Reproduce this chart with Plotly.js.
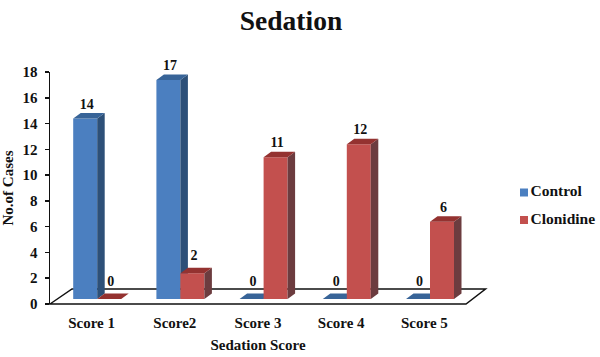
<!DOCTYPE html>
<html>
<head>
<meta charset="utf-8">
<script src="https://cdn.plot.ly/plotly-3.0.1.min.js"></script>
<style>html,body{margin:0;padding:0;background:#fff}#c{width:600px;height:357px}</style>
</head>
<body>
<div id="c"></div>
<script>
const categories = ["Score 1", "Score2", "Score 3", "Score 4", "Score 5"];
const control = [14, 17, 0, 0, 0];
const clonidine = [0, 2, 11, 12, 6];
const yTicks = [0, 2, 4, 6, 8, 10, 12, 14, 16, 18];

// pseudo-3D geometry, in axis units
const plotW = 416, plotH = 232, areaW = 550;
const pxX = plotW / categories.length, pxY = plotH / 18;
const shift = 5.6 / pxX, barW = 24 / pxX;
const baseY = 5 / pxY;
const dx = 7.5 / pxX, dy = 5.5 / pxY;
const font = "'Liberation Serif','Times New Roman',serif";

const idx = categories.map((_, i) => i);
const centers = sign => idx.map(i => i + shift + sign * barW / 2);

function faces(xs, vals) {
  const side = {x: [], y: []}, top = {x: [], y: []};
  const add = (o, pts) => {
    pts.forEach(p => { o.x.push(p[0]); o.y.push(p[1]); });
    o.x.push(null); o.y.push(null);
  };
  xs.forEach((c, i) => {
    const l = c - barW / 2, r = c + barW / 2, t = vals[i] + baseY;
    add(side, [[r, baseY], [r + dx, baseY + dy], [r + dx, t + dy], [r, t], [r, baseY]]);
    add(top, [[l, t], [r, t], [r + dx, t + dy], [l + dx, t + dy], [l, t]]);
  });
  return {side, top};
}

function series(name, vals, sign, front, sideC, topC, xa, ya, keyY) {
  const xs = centers(sign), f = faces(xs, vals);
  const poly = (o, col) => ({type: "scatter", mode: "lines", x: o.x, y: o.y, fill: "toself",
    fillcolor: col, line: {width: 0, color: col}, hoverinfo: "skip", showlegend: false,
    xaxis: xa, yaxis: ya, cliponaxis: false});
  return [
    {type: "bar", x: xs, y: vals, base: idx.map(() => baseY), width: barW, marker: {color: front, line: {width: 0}},
      showlegend: false, xaxis: xa, yaxis: ya, name},
    poly(f.side, sideC), poly(f.top, topC),
    {type: "scatter", mode: "text", x: xs.map(v => v + 1.5 / pxX), y: vals.map(v => v + baseY + (v < 3 ? 0.77 : 0.5)),
      text: vals.map(String), textposition: "top center", cliponaxis: false, hoverinfo: "skip",
      textfont: {family: font, size: 14, color: "#111", weight: 700}, showlegend: false, xaxis: xa, yaxis: ya},
    // legend key and label on their own small axes to the right of the plot
    {type: "scatter", mode: "markers", x: [524], y: [keyY], name, hoverinfo: "skip", showlegend: false,
      marker: {symbol: "square", size: 8, color: front}, xaxis: "x3", yaxis: "y3"},
    {type: "scatter", mode: "text", x: [530.5], y: [keyY], text: [name],
      textposition: "middle right", cliponaxis: false, hoverinfo: "skip", showlegend: false,
      textfont: {family: font, size: 15.5, color: "#111", weight: 700}, xaxis: "x3", yaxis: "y3"}
  ];
}

const traces = [
  ...series("Control", control, -1, "#4B7FC0", "#2D5078", "#386498", "x", "y", 192.5),
  ...series("Clonidine", clonidine, 1, "#C3504E", "#6C3C3F", "#943230", "x2", "y2", 220)
];

const fx = -0.5, fr = idx.length - 0.5;
const mainDomain = [0, plotW / areaW];
const floorL = 22 / areaW, floorR = 19.5 / areaW, floorH = 15 / plotH, floorEnd = plotW / areaW;
const floorPath = `M0,0 L${floorL},${floorH} L${floorEnd + floorR},${floorH} L${floorEnd},0 Z`;

const layout = {
  width: 600, height: 357, paper_bgcolor: "#fff", plot_bgcolor: "#fff",
  margin: {l: 50, r: 0, t: 72, b: 53},
  barmode: "overlay",
  showlegend: false,
  font: {family: font, size: 15, color: "#111", weight: 700},
  title: {text: "<b>Sedation</b>", x: 0.485, xanchor: "center", y: 0.943, yanchor: "middle",
    font: {family: font, size: 27.5, color: "#111"}},
  xaxis: {domain: mainDomain, range: [fx, fr], tickmode: "array", tickvals: idx, ticktext: categories, showgrid: false,
    zeroline: false, showline: false, ticks: "", ticklabelstandoff: 8,
    tickfont: {family: font, size: 15, weight: 700},
    title: {text: "<b>Sedation Score</b>", standoff: 9, font: {family: font, size: 15}}},
  yaxis: {range: [0, 18], tickmode: "array", tickvals: yTicks, showgrid: false, zeroline: false,
    showline: true, linecolor: "#111", linewidth: 1.5, ticks: "outside", ticklen: 4, tickcolor: "#111", tickwidth: 1.5,
    ticklabelstandoff: 4,
    tickfont: {family: font, size: 15, weight: 700},
    title: {text: "<b>No.of Cases</b>", standoff: 5, font: {family: font, size: 15}}},
  xaxis2: {domain: mainDomain, range: [fx, fr], overlaying: "x", visible: false},
  yaxis2: {range: [0, 18], overlaying: "y", visible: false},
  xaxis3: {domain: [460 / areaW, 1], range: [510, 600], anchor: "y3", visible: false},
  yaxis3: {range: [304, 72], anchor: "x3", visible: false},
  shapes: [{type: "path", xref: "paper", yref: "paper", layer: "below", path: floorPath,
    line: {color: "#111", width: 1.5}, fillcolor: "rgba(255,255,255,0)"}]
};
Plotly.newPlot("c", traces, layout, {displayModeBar: false, staticPlot: true});
</script>
</body>
</html>
